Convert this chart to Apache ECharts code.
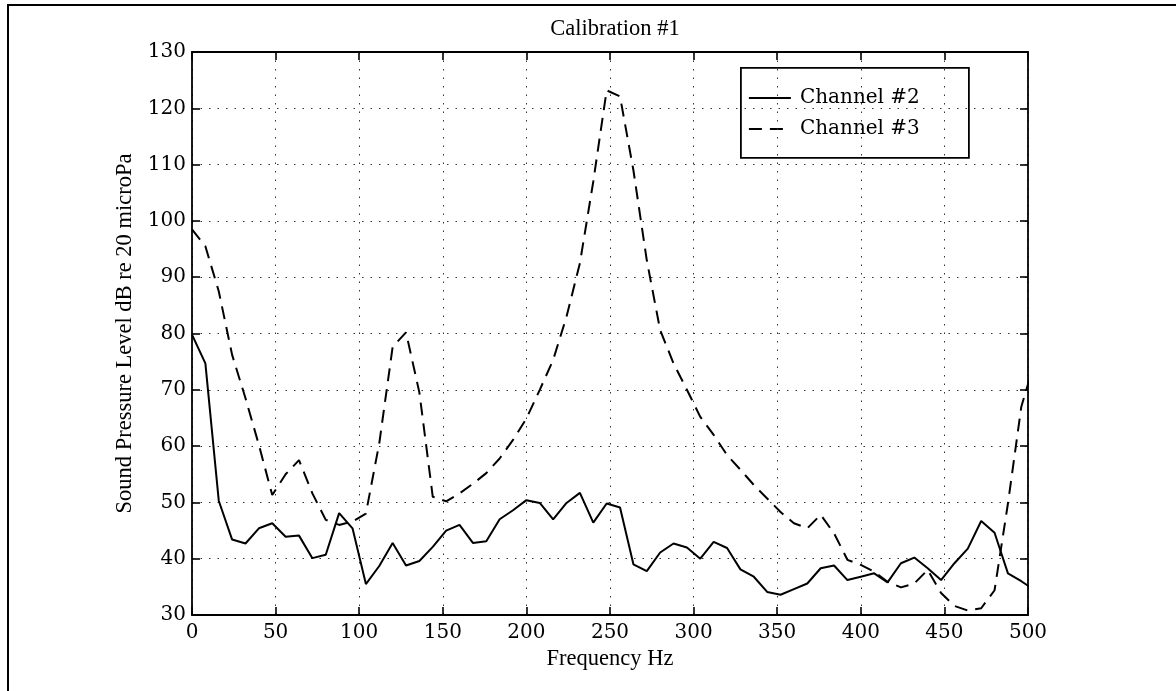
<!DOCTYPE html>
<html>
<head>
<meta charset="utf-8">
<script src="https://cdn.jsdelivr.net/npm/echarts@6/dist/echarts.min.js"></script>
<style>
html,body{margin:0;padding:0;background:#fff;}
#chart{width:1176px;height:691px;}
</style>
</head>
<body>
<div id="chart"></div>
<script>
// Frequency bins (Hz), 8 Hz spacing
const freqs = [0,8,16,24,32,40,48,56,64,72,80,88,96,104,112,120,128,136,144,152,160,168,176,184,192,200,208,216,224,232,240,248,256,264,272,280,288,296,304,312,320,328,336,344,352,360,368,376,384,392,400,408,416,424,432,440,448,456,464,472,480,488,496,504];
const channel2 = [79.8,74.7,50.3,43.4,42.7,45.4,46.3,43.9,44.1,40.1,40.7,48.1,45.4,35.5,38.7,42.8,38.8,39.6,42.1,45.0,46.0,42.8,43.1,47.0,48.6,50.4,49.9,47.0,49.9,51.7,46.4,49.8,49.1,39.0,37.8,41.1,42.7,42.0,40.0,43.0,41.9,38.1,36.8,34.1,33.6,34.6,35.6,38.3,38.8,36.2,36.8,37.4,35.8,39.2,40.2,38.3,36.2,39.2,41.8,46.7,44.6,37.4,36.0,34.4];
const channel3 = [98.5,95.5,87.5,76.2,68.5,60.2,51.3,55.0,57.5,51.6,46.9,46.0,46.6,48.0,60.5,77.6,80.2,69.5,51.0,50.2,51.6,53.3,55.2,57.8,61.1,64.9,70.0,75.3,83.0,92.5,107.0,123.2,122.1,109.0,93.0,80.6,74.7,70.0,65.2,62.0,58.4,55.8,53.1,50.7,48.3,46.3,45.4,47.8,44.5,39.8,38.9,37.7,35.9,34.9,35.6,38.0,33.9,31.6,30.8,31.2,34.4,49.8,67.0,75.0];
const seriesNames = ['Channel #2','Channel #3'];
const titleText = 'Calibration #1';
const xName = 'Frequency Hz';
const yName = 'Sound Pressure Level dB re 20 microPa';

const zip = (xs, ys) => xs.map((x, i) => [x, ys[i]]);

const tickFont = { fontFamily: 'DejaVu Serif', fontSize: 20, color: '#000' };
const gridLine = { show: true, lineStyle: { color: '#333', width: 1, type: [1.5, 7] } };
const axLine = { show: true, onZero: false, lineStyle: { color: '#000', width: 1.8 } };
const inTick = { show: true, inside: true, length: 8, lineStyle: { color: '#000', width: 1.6 } };
const solidStyle = { color: '#000', width: 2, type: 'solid' };
const dashStyle = { color: '#000', width: 2, type: [13, 8] };

const chart = echarts.init(document.getElementById('chart'), null, { renderer: 'canvas' });
chart.setOption({
  backgroundColor: '#fff',
  animation: false,
  title: {
    text: titleText, left: 610, top: 13, textAlign: 'center',
    textStyle: { fontFamily: 'Liberation Serif', fontSize: 22.5, fontWeight: 'normal', color: '#000' }
  },
  grid: { left: 192, right: 148, top: 52, bottom: 76, containLabel: false },
  xAxis: [{
    type: 'value', min: 0, max: 500, interval: 50,
    name: xName, nameLocation: 'middle', nameGap: 31,
    nameTextStyle: { fontFamily: 'Liberation Serif', fontSize: 22.5, color: '#000' },
    axisLine: axLine, axisTick: inTick,
    axisLabel: Object.assign({ margin: 8 }, tickFont),
    splitLine: gridLine
  }, {
    type: 'value', min: 0, max: 500, interval: 50, position: 'top',
    axisLine: axLine, axisTick: inTick, axisLabel: { show: false }, splitLine: { show: false }
  }],
  yAxis: [{
    type: 'value', min: 30, max: 130, interval: 10,
    name: yName, nameLocation: 'middle', nameGap: 51, nameRotate: 90,
    nameTextStyle: { fontFamily: 'Liberation Serif', fontSize: 22.5, color: '#000' },
    axisLine: axLine, axisTick: inTick,
    axisLabel: Object.assign({ margin: 6 }, tickFont),
    splitLine: gridLine
  }, {
    type: 'value', min: 30, max: 130, interval: 10, position: 'right',
    axisLine: axLine, axisTick: inTick, axisLabel: { show: false }, splitLine: { show: false }
  }],
  series: [{
    name: seriesNames[0], type: 'line', data: zip(freqs, channel2),
    showSymbol: false, symbol: 'none', clip: true,
    lineStyle: solidStyle, itemStyle: { color: '#000' }
  }, {
    name: seriesNames[1], type: 'line', data: zip(freqs, channel3),
    showSymbol: false, symbol: 'none', clip: true,
    lineStyle: dashStyle, itemStyle: { color: '#000' }
  }],
  graphic: [{
    type: 'polyline', silent: true,
    shape: { points: [[8, 691], [8, 5], [1176, 5]] },
    style: { stroke: '#000', lineWidth: 2, fill: null }
  }, {
    type: 'group', left: 740, top: 67, silent: true,
    children: [{
      type: 'rect', shape: { x: 0, y: 0, width: 228, height: 90 },
      style: { fill: '#fff', stroke: '#000', lineWidth: 1.8 }
    }, {
      type: 'line', shape: { x1: 8, y1: 30, x2: 50, y2: 30 },
      style: { stroke: '#000', lineWidth: solidStyle.width }
    }, {
      type: 'text', x: 59, y: 30,
      style: { text: seriesNames[0], fontFamily: 'DejaVu Serif', fontSize: 20, fill: '#000', verticalAlign: 'middle', align: 'left' }
    }, {
      type: 'line', shape: { x1: 8, y1: 61, x2: 50, y2: 61 },
      style: { stroke: '#000', lineWidth: dashStyle.width, lineDash: [13, 8] }
    }, {
      type: 'text', x: 59, y: 61,
      style: { text: seriesNames[1], fontFamily: 'DejaVu Serif', fontSize: 20, fill: '#000', verticalAlign: 'middle', align: 'left' }
    }]
  }]
});
</script>
</body>
</html>
